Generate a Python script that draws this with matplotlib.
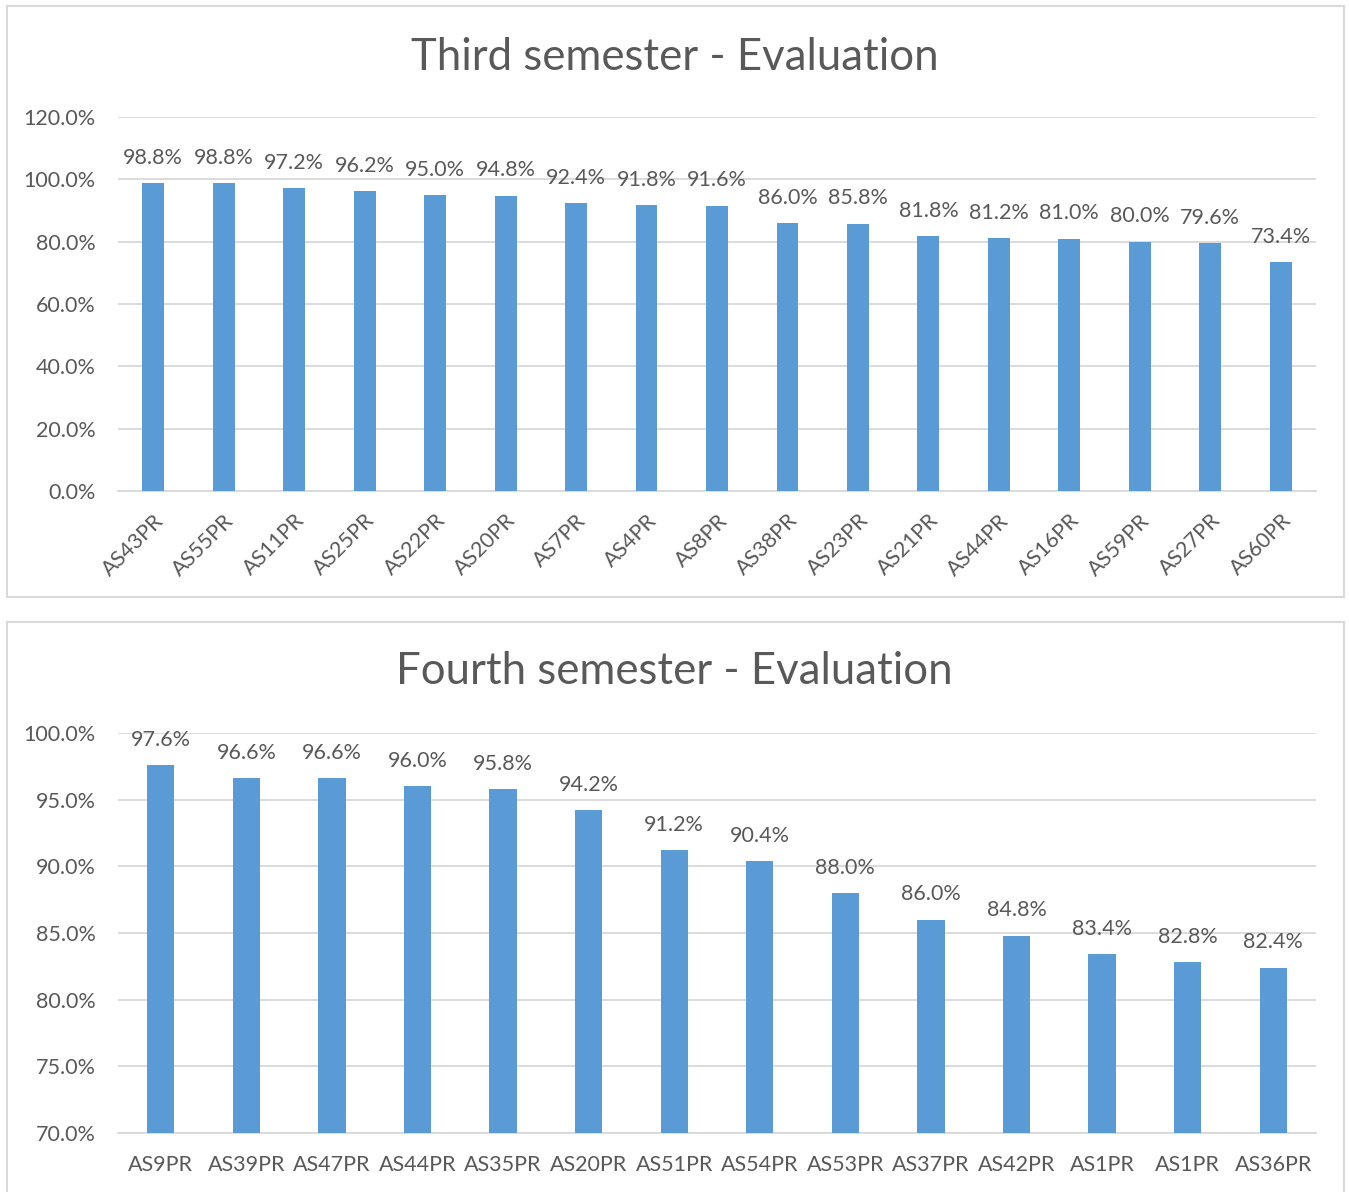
import numpy as np
import matplotlib.pyplot as plt
from matplotlib.patches import Rectangle
from matplotlib.ticker import FuncFormatter

# data
third_names = ['AS43PR', 'AS55PR', 'AS11PR', 'AS25PR', 'AS22PR', 'AS20PR', 'AS7PR', 'AS4PR', 'AS8PR',
               'AS38PR', 'AS23PR', 'AS21PR', 'AS44PR', 'AS16PR', 'AS59PR', 'AS27PR', 'AS60PR']
third_vals = [98.8, 98.8, 97.2, 96.2, 95.0, 94.8, 92.4, 91.8, 91.6, 86.0, 85.8, 81.8, 81.2, 81.0, 80.0, 79.6, 73.4]

fourth_names = ['AS9PR', 'AS39PR', 'AS47PR', 'AS44PR', 'AS35PR', 'AS20PR', 'AS51PR', 'AS54PR',
                'AS53PR', 'AS37PR', 'AS42PR', 'AS1PR', 'AS1PR', 'AS36PR']
fourth_vals = [97.6, 96.6, 96.6, 96.0, 95.8, 94.2, 91.2, 90.4, 88.0, 86.0, 84.8, 83.4, 82.8, 82.4]

plt.rcParams['font.family'] = ['Lato', 'DejaVu Sans']
txt = '#595959'
bar_c = '#5B9BD5'
grid_c = '#D9D9D9'

W, H = 1349, 1192
fig = plt.figure(figsize=(W / 100, H / 100), dpi=100)

def px(x0, y0, x1, y1):
    # pixel box -> figure fraction [l, b, w, h]
    return [x0 / W, 1 - y1 / H, (x1 - x0) / W, (y1 - y0) / H]

# panel borders
for (x0, y0, x1, y1) in [(7, 6, 1344, 597), (7, 622, 1344, 1200)]:
    fig.patches.append(Rectangle((x0 / W, 1 - y1 / H), (x1 - x0) / W, (y1 - y0) / H,
                                 transform=fig.transFigure, fill=False, ec='#D9D9D9', lw=1.5))

pct = FuncFormatter(lambda v, p: '%.1f%%' % v)

def panel(ax, names, vals, lo, hi, step, width, rot, title, ty):
    x = np.arange(len(names))
    ax.bar(x, vals, width=width, color=bar_c, zorder=3)
    ax.set_xlim(-0.5, len(names) - 0.5)
    ax.set_ylim(lo, hi)
    ax.set_yticks(np.arange(lo, hi + 0.01, step))
    ax.yaxis.set_major_formatter(pct)
    ax.grid(axis='y', color=grid_c, lw=1.3, zorder=0)
    for s in ['top', 'right', 'left']:
        ax.spines[s].set_visible(False)
    ax.spines['bottom'].set_color(grid_c)
    ax.spines['bottom'].set_linewidth(1.3)
    ax.tick_params(length=0, labelsize=15.5, colors=txt)
    ax.tick_params(axis='y', pad=16)
    ax.set_xticks(x)
    if rot:
        ax.set_xticklabels(names, rotation=45, ha='right', rotation_mode='anchor')
        ax.tick_params(axis='x', pad=14)
    else:
        ax.set_xticklabels(names)
        ax.tick_params(axis='x', pad=16)
    for xi, v in zip(x, vals):
        ax.annotate('%.1f%%' % v, (xi, v), xytext=(0, 11), textcoords='offset points',
                    ha='center', va='bottom', fontsize=15.5, color=txt)
    fig.text(0.5, ty, title, ha='center', va='center', fontsize=31.5, color=txt)

ax1 = fig.add_axes(px(118, 117, 1316, 491))
panel(ax1, third_names, third_vals, 0, 120, 20, 0.31, True, 'Third semester - Evaluation', 1 - 57 / H)

ax2 = fig.add_axes(px(118, 733, 1316, 1133))
panel(ax2, fourth_names, fourth_vals, 70, 100, 5, 0.32, False, 'Fourth semester - Evaluation', 1 - 672 / H)

fig.savefig('out.png', dpi=100)
